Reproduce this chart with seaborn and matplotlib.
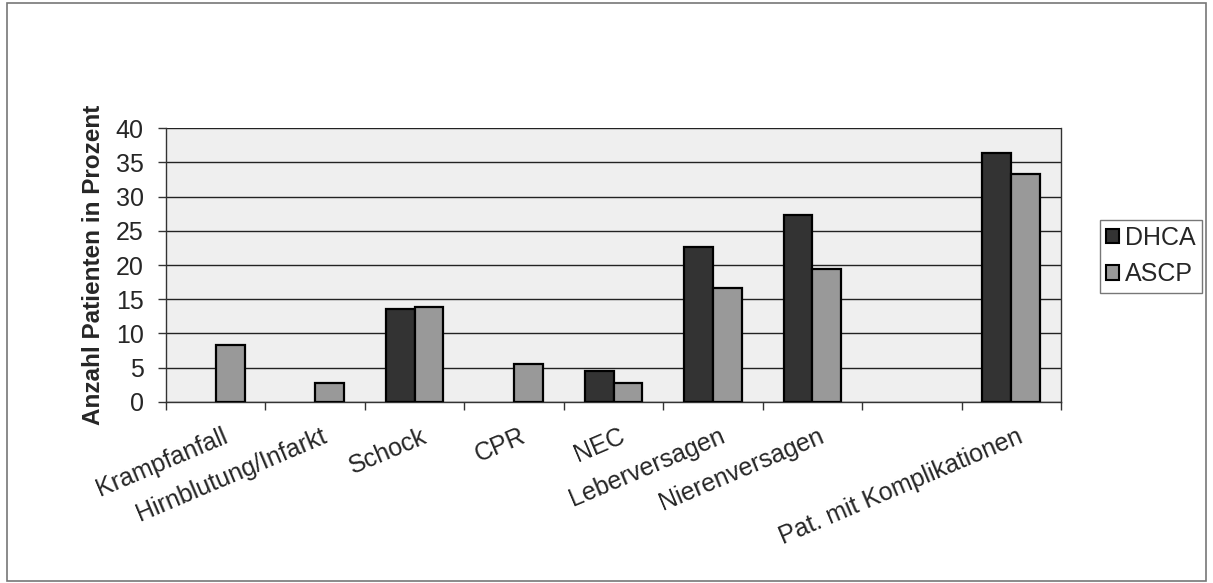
import numpy as np
import pandas as pd
import matplotlib
matplotlib.use("Agg")
import matplotlib.pyplot as plt
import seaborn as sns
from matplotlib.patches import Rectangle

# Daten aus der Abbildung
kategorien = ["Krampfanfall", "Hirnblutung/Infarkt", "Schock", "CPR", "NEC",
              "Leberversagen", "Nierenversagen", "", "Pat. mit Komplikationen"]
dhca = [0, 0, 13.6, 0, 4.5, 22.7, 27.3, 0, 36.4]
ascp = [8.3, 2.8, 13.9, 5.6, 2.8, 16.7, 19.4, 0, 33.3]
gruppen = ["DHCA", "ASCP"]
farben = ["#333333", "#999999"]

pos = [str(i) for i in range(len(kategorien))]
df = pd.DataFrame({
    "pos": pos * 2,
    "wert": dhca + ascp,
    "gruppe": [gruppen[0]] * len(pos) + [gruppen[1]] * len(pos),
})

sns.set_style("white")
plt.rcParams["font.family"] = ["Liberation Sans", "DejaVu Sans"]

fig = plt.figure(figsize=(12.13, 5.83), dpi=100)
ax = fig.add_axes([0.1369, 0.3105, 0.7378, 0.4699])
ax.set_facecolor("#efefef")

sns.barplot(data=df, x="pos", y="wert", hue="gruppe", order=pos,
            hue_order=gruppen, palette=farben, width=0.58,
            edgecolor="black", linewidth=1.6, ax=ax, legend=False,
            zorder=3)

# leere Balken (Wert 0) nicht als Strich zeichnen
for p in ax.patches:
    if p.get_height() == 0:
        p.set_visible(False)

ax.set_ylim(0, 40)
ax.set_yticks(np.arange(0, 41, 5))
ax.yaxis.grid(True, color="#222222", linewidth=1.0, zorder=0)
ax.set_axisbelow(True)
ax.set_xlim(-0.5, len(kategorien) - 0.5)

# Tickmarks an den Kategoriegrenzen, Beschriftung in der Mitte
ax.set_xticks(np.arange(-0.5, len(kategorien), 1.0))
ax.set_xticklabels([])
ax.set_xticks(np.arange(len(kategorien)) + 0.06, minor=True)
ax.set_xticklabels(kategorien, minor=True, rotation=23, ha="right",
                   va="top", rotation_mode="anchor", fontsize=18)
ax.tick_params(axis="x", which="major", direction="out", length=6,
               width=1, color="#333333", bottom=True)
ax.tick_params(axis="x", which="minor", length=0, pad=16)
ax.tick_params(axis="y", direction="out", length=6, width=1,
               color="#333333", left=True, labelsize=18, pad=10)

ax.spines["top"].set_visible(False)
for s in ["left", "bottom", "right"]:
    ax.spines[s].set_color("#333333")
    ax.spines[s].set_linewidth(1.0)

ax.set_xlabel("")
ax.set_ylabel("Anzahl Patienten in Prozent", fontsize=17.5,
              fontweight="bold", labelpad=8)

handles = [Rectangle((0, 0), 1, 1, facecolor=c, edgecolor="black",
                     linewidth=1.5) for c in farben]
leg = fig.legend(handles, gruppen, loc="center left",
                 bbox_to_anchor=(1100 / 1213, 1 - 256 / 583),
                 fontsize=18, frameon=True, fancybox=False,
                 handlelength=0.5, handleheight=0.5, handletextpad=0.25,
                 borderpad=0.25, labelspacing=0.5, borderaxespad=0)
leg.get_frame().set_edgecolor("#555555")
leg.get_frame().set_linewidth(1.0)

fig.patches.append(Rectangle((0.006, 0.004), 0.988, 0.99,
                             transform=fig.transFigure, fill=False,
                             edgecolor="#777777", linewidth=1.2))

fig.savefig("out.png", dpi=100)
